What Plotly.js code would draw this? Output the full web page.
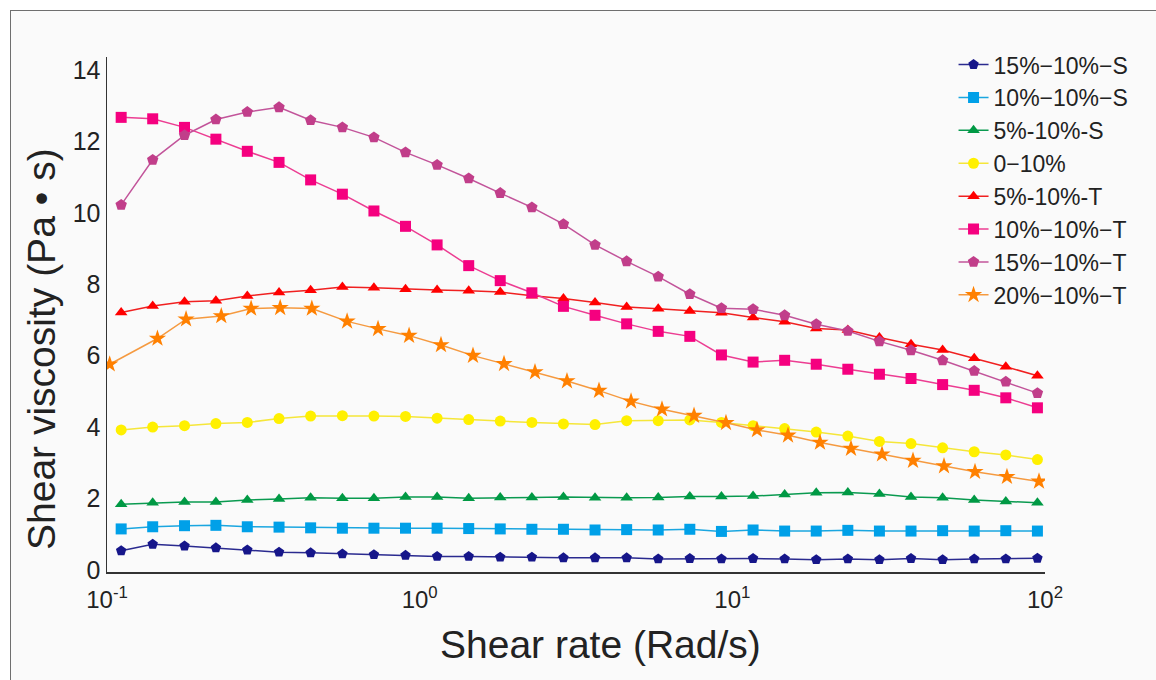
<!DOCTYPE html>
<html>
<head>
<meta charset="utf-8">
<script src="https://cdn.plot.ly/plotly-3.0.1.min.js"></script>
<style>
  html, body { margin: 0; padding: 0; width: 1156px; height: 680px; overflow: hidden; background: #ffffff; }
  #frame { position: absolute; left: 10px; top: 10px; width: 1146px; height: 670px;
           border-top: 1.5px solid #6f6f6f; border-left: 1.5px solid #6f6f6f; background: #fafafa; box-sizing: border-box; }
  #chart { position: absolute; left: 0; top: 0; width: 1156px; height: 680px; }
</style>
</head>
<body>
<div id="frame"></div>
<div id="chart"></div>
<script>
// Shear rate (Rad/s)
const shearRate = [0.111, 0.140, 0.177, 0.223, 0.281, 0.355, 0.448, 0.566, 0.714, 0.901,
                   1.137, 1.435, 1.810, 2.285, 2.883, 3.638, 4.592, 5.794, 7.312, 9.229,
                   11.65, 14.70, 18.55, 23.41, 29.54, 37.28, 47.05, 59.38, 74.93, 94.57];
const shearRateT20 = [0.102, 0.145, 0.179, 0.232, 0.289, 0.358, 0.452, 0.586, 0.736, 0.925,
                      1.170, 1.481, 1.861, 2.338, 2.959, 3.746, 4.743, 5.957, 7.542, 9.543,
                      11.99, 15.07, 19.07, 23.96, 30.11, 37.83, 47.53, 59.72, 75.56, 95.68];

// Shear viscosity (Pa·s)
const visS15 = [0.54, 0.72, 0.67, 0.62, 0.56, 0.50, 0.48, 0.45, 0.43, 0.41,
                0.38, 0.38, 0.36, 0.36, 0.34, 0.34, 0.34, 0.31, 0.32, 0.31,
                0.32, 0.31, 0.29, 0.31, 0.29, 0.32, 0.29, 0.31, 0.31, 0.33];
const visS10 = [1.15, 1.21, 1.24, 1.25, 1.21, 1.20, 1.18, 1.17, 1.17, 1.17,
                1.17, 1.16, 1.15, 1.14, 1.14, 1.12, 1.13, 1.12, 1.14, 1.08,
                1.12, 1.09, 1.09, 1.11, 1.09, 1.09, 1.10, 1.09, 1.10, 1.09];
const visS5  = [1.84, 1.88, 1.90, 1.90, 1.96, 1.99, 2.02, 2.01, 2.01, 2.04,
                2.04, 2.01, 2.03, 2.03, 2.04, 2.02, 2.02, 2.03, 2.06, 2.06,
                2.07, 2.11, 2.16, 2.17, 2.13, 2.04, 2.02, 1.96, 1.92, 1.88];
const vis0   = [3.92, 4.00, 4.04, 4.10, 4.13, 4.24, 4.31, 4.32, 4.31, 4.30,
                4.25, 4.21, 4.17, 4.13, 4.09, 4.07, 4.18, 4.18, 4.20, 4.13,
                4.04, 3.96, 3.86, 3.75, 3.60, 3.54, 3.42, 3.31, 3.22, 3.09];
const visT5  = [7.21, 7.39, 7.51, 7.54, 7.67, 7.77, 7.83, 7.92, 7.90, 7.86,
                7.84, 7.82, 7.78, 7.68, 7.60, 7.49, 7.36, 7.31, 7.25, 7.20,
                7.07, 6.95, 6.76, 6.72, 6.51, 6.32, 6.16, 5.93, 5.69, 5.44];
const visT10 = [12.67, 12.63, 12.39, 12.06, 11.72, 11.41, 10.92, 10.52, 10.05, 9.62,
                9.10, 8.52, 8.10, 7.76, 7.38, 7.13, 6.89, 6.68, 6.54, 6.02,
                5.82, 5.87, 5.76, 5.62, 5.48, 5.36, 5.19, 5.03, 4.82, 4.54];
const visT15 = [10.22, 11.48, 12.17, 12.61, 12.82, 12.95, 12.59, 12.39, 12.11, 11.69,
                11.34, 10.96, 10.55, 10.15, 9.68, 9.10, 8.64, 8.21, 7.72, 7.33,
                7.30, 7.13, 6.88, 6.69, 6.40, 6.15, 5.87, 5.57, 5.27, 4.95];
const visT20 = [5.76, 6.48, 7.02, 7.11, 7.32, 7.34, 7.32, 6.96, 6.75, 6.56,
                6.30, 6.00, 5.77, 5.54, 5.29, 5.02, 4.72, 4.50, 4.32, 4.12,
                3.92, 3.77, 3.57, 3.40, 3.24, 3.06, 2.91, 2.75, 2.61, 2.48];

const seriesNames = ['15%\u221210%\u2212S', '10%\u221210%\u2212S', '5%-10%-S', '0\u221210%',
                     '5%-10%-T', '10%\u221210%\u2212T', '15%\u221210%\u2212T', '20%\u221210%\u2212T'];
const xTickVals = [0.1, 1, 10, 100];
const xTickText = ['10<sup>-1</sup>', '10<sup>0</sup>', '10<sup>1</sup>', '10<sup>2</sup>'];
const yTickVals = [0, 2, 4, 6, 8, 10, 12, 14];
const xTitle = 'Shear rate (Rad/s)';
const yTitle = 'Shear viscosity (Pa \u2022 s)';

const styles = [
  {x: shearRate,    y: visS15, line: '#2a2a8f', mk: '#16168a', sym: 'pentagon',    size: 11},
  {x: shearRate,    y: visS10, line: '#1aa6e0', mk: '#00a0e8', sym: 'square',      size: 11},
  {x: shearRate,    y: visS5,  line: '#0a9a50', mk: '#009944', sym: 'triangle-up', size: 11},
  {x: shearRate,    y: vis0,   line: '#f5e63a', mk: '#fff000', sym: 'circle',      size: 11},
  {x: shearRate,    y: visT5,  line: '#f02020', mk: '#ff0000', sym: 'triangle-up', size: 11},
  {x: shearRate,    y: visT10, line: '#ec3d92', mk: '#f5007f', sym: 'square',      size: 11},
  {x: shearRate,    y: visT15, line: '#c2549a', mk: '#c13e8a', sym: 'pentagon',    size: 12},
  {x: shearRateT20, y: visT20, line: '#f59a40', mk: '#ff8000', sym: 'star',        size: 13}
];

const font = 'Liberation Sans, Arial, sans-serif';
const traces = styles.map((s, i) => ({
  type: 'scatter', mode: 'lines+markers', name: seriesNames[i],
  x: s.x, y: s.y,
  line: {color: s.line, width: 1.5},
  marker: {color: s.mk, symbol: s.sym, size: s.size, line: {width: 0}}
}));

const layout = {
  width: 1156, height: 680,
  margin: {l: 107, r: 111, t: 57, b: 108},
  paper_bgcolor: 'rgba(0,0,0,0)', plot_bgcolor: 'rgba(0,0,0,0)',
  font: {family: font, color: '#222222'},
  showlegend: true,
  legend: {x: 0.9025, y: 1.027, xanchor: 'left', yanchor: 'top', bgcolor: 'rgba(0,0,0,0)',
           font: {family: font, size: 23, color: '#222222'}, tracegroupgap: 0, itemwidth: 30},
  xaxis: {
    type: 'log', range: [-1, 2], showline: true, linecolor: '#333333', linewidth: 1.5,
    showgrid: false, zeroline: false, ticks: '', tickvals: xTickVals, ticktext: xTickText,
    ticklabelstandoff: 6,
    tickfont: {family: font, size: 24, color: '#222222'}
  },
  yaxis: {
    range: [-0.056, 14.36], showline: true, linecolor: '#333333', linewidth: 1.5,
    showgrid: false, zeroline: false, ticks: '', tickvals: yTickVals,
    tickfont: {family: font, size: 25, color: '#222222'}
  },
  annotations: [
    {text: xTitle, xref: 'paper', yref: 'paper', x: 0.5256, y: -0.1417, xanchor: 'center', yanchor: 'middle',
     showarrow: false, font: {family: font, size: 39, color: '#222222'}},
    {text: yTitle, xref: 'paper', yref: 'paper', x: -0.0704, y: 0.433, xanchor: 'center', yanchor: 'middle',
     textangle: -90, showarrow: false, font: {family: font, size: 39, color: '#222222'}}
  ]
};

Plotly.newPlot('chart', traces, layout, {displayModeBar: false, staticPlot: true});
</script>
</body>
</html>
